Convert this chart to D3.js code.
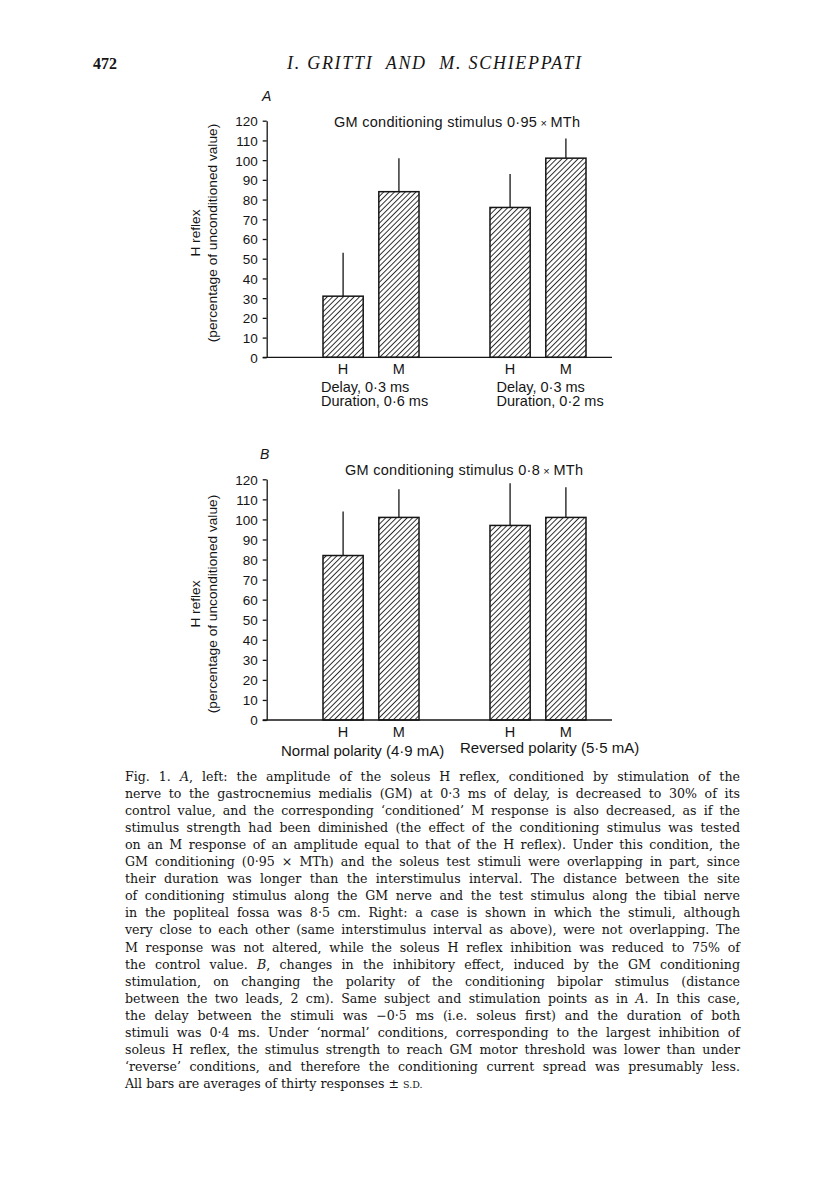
<!DOCTYPE html>
<html>
<head>
<meta charset="utf-8">
<script src="https://cdn.jsdelivr.net/npm/d3@7"></script>
<style>
  html, body { margin: 0; padding: 0; background: #fff; }
  svg { display: block; }
</style>
</head>
<body>
<svg id="page" width="816" height="1203"></svg>
<script>
// ---------- data ----------
const groups = ["g1", "g2"];
const barKinds = ["H", "M"];
const yTicks = [0, 10, 20, 30, 40, 50, 60, 70, 80, 90, 100, 110, 120];

// Panel A (GM conditioning stimulus 0·95 × MTh)
const valuesA = [31, 84, 76, 101];   // H, M (left) ; H, M (right)
const sdA     = [22, 17, 17, 10];
const groupLabelsA = [["Delay, 0·3 ms", "Duration, 0·6 ms"], ["Delay, 0·3 ms", "Duration, 0·2 ms"]];

// Panel B (GM conditioning stimulus 0·8 × MTh)
const valuesB = [82, 101, 97, 101];
const sdB     = [22, 14, 21, 15];
const groupLabelsB = ["Normal polarity (4·9 mA)", "Reversed polarity (5·5 mA)"];

const captionLines = [
  [["Fig. 1. "], ["A", "i"], [", left: the amplitude of the soleus H reflex, conditioned by stimulation of the"]],
  [["nerve to the gastrocnemius medialis (GM) at 0·3 ms of delay, is decreased to 30% of its"]],
  [["control value, and the corresponding \u2018conditioned\u2019 M response is also decreased, as if the"]],
  [["stimulus strength had been diminished (the effect of the conditioning stimulus was tested"]],
  [["on an M response of an amplitude equal to that of the H reflex). Under this condition, the"]],
  [["GM conditioning (0·95 × MTh) and the soleus test stimuli were overlapping in part, since"]],
  [["their duration was longer than the interstimulus interval. The distance between the site"]],
  [["of conditioning stimulus along the GM nerve and the test stimulus along the tibial nerve"]],
  [["in the popliteal fossa was 8·5 cm. Right: a case is shown in which the stimuli, although"]],
  [["very close to each other (same interstimulus interval as above), were not overlapping. The"]],
  [["M response was not altered, while the soleus H reflex inhibition was reduced to 75% of"]],
  [["the control value. "], ["B", "i"], [", changes in the inhibitory effect, induced by the GM conditioning"]],
  [["stimulation, on changing the polarity of the conditioning bipolar stimulus (distance"]],
  [["between the two leads, 2 cm). Same subject and stimulation points as in "], ["A", "i"], [". In this case,"]],
  [["the delay between the stimuli was \u22120·5 ms (i.e. soleus first) and the duration of both"]],
  [["stimuli was 0·4 ms. Under \u2018normal\u2019 conditions, corresponding to the largest inhibition of"]],
  [["soleus H reflex, the stimulus strength to reach GM motor threshold was lower than under"]],
  [["\u2018reverse\u2019 conditions, and therefore the conditioning current spread was presumably less."]],
  [["All bars are averages of thirty responses \u00b1 "], ["S.D.", "sc"]]
];

// ---------- drawing ----------
const svg = d3.select("#page");
const SANS = "'Liberation Sans', Arial, Helvetica, sans-serif";
const SERIF = "'DejaVu Serif', 'Liberation Serif', serif";
const INK = "#151515";
const FS = 14.5;

// hatch pattern
const defs = svg.append("defs");
const pat = defs.append("pattern")
  .attr("id", "hatch")
  .attr("patternUnits", "userSpaceOnUse")
  .attr("width", 3.8).attr("height", 10)
  .attr("patternTransform", "rotate(45)");
pat.append("line")
  .attr("x1", 0.5).attr("y1", 0).attr("x2", 0.5).attr("y2", 10)
  .attr("stroke", INK).attr("stroke-width", 0.9);

// header
svg.append("text").attr("x", 93).attr("y", 69)
  .attr("font-family", "'Liberation Serif', serif").attr("font-size", 16).attr("font-weight", "bold")
  .attr("fill", INK).text("472");
svg.append("text").attr("x", 287).attr("y", 69)
  .attr("font-family", "'Liberation Serif', serif").attr("font-size", 18).attr("font-style", "italic")
  .attr("fill", INK).attr("textLength", 294).attr("lengthAdjust", "spacing")
  .attr("xml:space", "preserve")
  .text("I. GRITTI  AND  M. SCHIEPPATI");

function drawPanel(opts) {
  const g = svg.append("g");
  const axisX = 266.7;
  const xEnd = 612;
  const y = d3.scaleLinear().domain([0, 120]).range([opts.y0, opts.y120]);
  const gx = d3.scaleBand().domain(groups).range([323, 586]).paddingInner(0.425).paddingOuter(0);
  const ix = d3.scaleBand().domain(barKinds).range([0, gx.bandwidth()]).paddingInner(0.28).paddingOuter(0);

  const bars = [];
  groups.forEach((gr, gi) => barKinds.forEach((k, ki) => {
    const idx = gi * 2 + ki;
    bars.push({ g: gr, k: k, v: opts.values[idx], sd: opts.sd[idx] });
  }));

  // panel letter
  g.append("text").attr("x", opts.letterX).attr("y", opts.letterY)
    .attr("font-family", SANS).attr("font-style", "italic").attr("font-size", 14)
    .attr("fill", INK).text(opts.letter);

  // title
  const t = g.append("text").attr("x", opts.titleX).attr("y", opts.titleY)
    .attr("font-family", SANS).attr("font-size", FS).attr("fill", INK)
    .attr("textLength", opts.titleW).attr("lengthAdjust", "spacing");
  t.append("tspan").text(opts.titleA);
  t.append("tspan").attr("font-size", 11).text(" × ");
  t.append("tspan").text("MTh");

  // error bars
  g.selectAll(".err").data(bars).enter().append("line")
    .attr("x1", d => gx(d.g) + ix(d.k) + ix.bandwidth() / 2)
    .attr("x2", d => gx(d.g) + ix(d.k) + ix.bandwidth() / 2)
    .attr("y1", d => y(d.v))
    .attr("y2", d => y(d.v + d.sd))
    .attr("stroke", INK).attr("stroke-width", 1.3);

  // bars
  g.selectAll(".bar").data(bars).enter().append("rect")
    .attr("x", d => gx(d.g) + ix(d.k))
    .attr("y", d => y(d.v))
    .attr("width", ix.bandwidth())
    .attr("height", d => y(0) - y(d.v))
    .attr("fill", "url(#hatch)")
    .attr("stroke", INK).attr("stroke-width", 1.5);

  // y axis
  const ax = d3.axisLeft(y).tickValues(yTicks).tickSize(4).tickSizeOuter(0).tickPadding(5);
  const axg = g.append("g").attr("transform", `translate(${axisX},0)`).call(ax);
  axg.select(".domain").attr("stroke", INK).attr("stroke-width", 1.3);
  axg.selectAll(".tick line").attr("stroke", INK).attr("stroke-width", 1.3);
  axg.selectAll(".tick text").attr("font-family", SANS).attr("font-size", 13.5)
    .attr("fill", INK).attr("dy", "0.36em");

  // baseline
  g.append("line").attr("x1", axisX - 4).attr("x2", xEnd)
    .attr("y1", y(0)).attr("y2", y(0)).attr("stroke", INK).attr("stroke-width", 1.3);

  // category labels
  g.selectAll(".cat").data(bars).enter().append("text")
    .attr("x", d => gx(d.g) + ix(d.k) + ix.bandwidth() / 2)
    .attr("y", y(0) + 16.5)
    .attr("text-anchor", "middle")
    .attr("font-family", SANS).attr("font-size", FS).attr("fill", INK)
    .text(d => d.k);

  // y label
  const cy = opts.labelCY;
  g.append("text").attr("transform", `translate(199.5,${cy}) rotate(-90)`)
    .attr("text-anchor", "middle").attr("font-family", SANS).attr("font-size", 13.7)
    .attr("fill", INK).text("H reflex");
  g.append("text").attr("transform", `translate(216.5,${cy}) rotate(-90)`)
    .attr("text-anchor", "middle").attr("font-family", SANS).attr("font-size", 13.7)
    .attr("fill", INK).text("(percentage of unconditioned value)");

  return { g, y, gx, ix };
}

const pA = drawPanel({
  y0: 357.3, y120: 120.7, values: valuesA, sd: sdA,
  letter: "A", letterX: 262, letterY: 101,
  titleX: 334, titleY: 127, titleW: 246, titleA: "GM conditioning stimulus 0·95",
  labelCY: 233
});
groupLabelsA.forEach((lines, gi) => {
  lines.forEach((s, li) => {
    pA.g.append("text").attr("x", gi ? 496.5 : 321).attr("y", 391.7 + li * 14.3)
      .attr("font-family", SANS).attr("font-size", FS).attr("fill", INK).text(s);
  });
});

const pB = drawPanel({
  y0: 720, y120: 479.3, values: valuesB, sd: sdB,
  letter: "B", letterX: 260, letterY: 459,
  titleX: 345, titleY: 475, titleW: 238, titleA: "GM conditioning stimulus 0·8",
  labelCY: 604
});
groupLabelsB.forEach((s, gi) => {
  pB.g.append("text").attr("x", gi ? 460 : 281).attr("y", gi ? 753 : 756)
    .attr("font-family", SANS).attr("font-size", 15).attr("fill", INK).text(s);
});

// caption
const capLeft = 125, capRight = 740, capTop = 781, capStep = 17.05;
captionLines.forEach((segs, i) => {
  const txt = svg.append("text").attr("x", capLeft).attr("y", capTop + i * capStep)
    .attr("font-family", SERIF).attr("font-size", 12.6).attr("fill", INK)
    .attr("xml:space", "preserve");
  segs.forEach(s => {
    const sp = txt.append("tspan").text(s[0]);
    if (s[1] === "i") sp.attr("font-style", "italic");
    if (s[1] === "sc") sp.attr("font-size", 9.5);
  });
  if (i < captionLines.length - 1) {
    const full = segs.map(s => s[0]).join("");
    const spaces = (full.match(/ /g) || []).length;
    const w = txt.node().getComputedTextLength();
    const extra = (capRight - capLeft - w) / Math.max(1, spaces);
    txt.attr("word-spacing", extra.toFixed(2));
  }
});
</script>
</body>
</html>
